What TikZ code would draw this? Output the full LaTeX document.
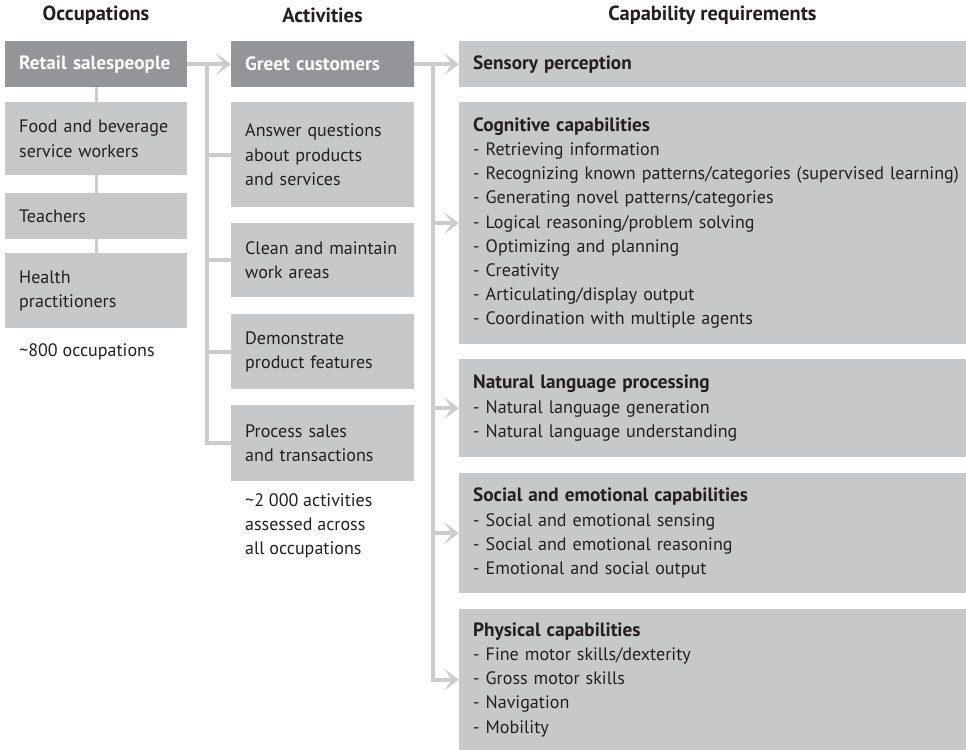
\documentclass[tikz,border=0pt]{standalone}
\usepackage{fontspec}
\setmainfont{PT Sans}
\usetikzlibrary{arrows.meta,positioning}

\definecolor{boxgray}{HTML}{C7C8CA}
\definecolor{headgray}{HTML}{939598}
\definecolor{linkgray}{HTML}{CBCCCE}
\definecolor{inkgray}{HTML}{231F20}

\newcommand{\bodyfont}{\fontsize{18.1}{24.3}\selectfont}
\newcommand{\headfont}{\fontsize{19.3}{24.3}\selectfont\bfseries}
\newcommand{\boxhead}[1]{{\headfont #1}}

\tikzset{>={Stealth[length=15bp,width=22bp,inset=8bp]},
  box/.style={rectangle, fill=boxgray, anchor=north west, inner xsep=14bp,
    inner ysep=0pt, align=left, text=inkgray, font=\bodyfont,
    execute at begin node={\hyphenpenalty=10000\relax}},
  occbox/.style={box, text width=154bp, minimum width=182bp},
  actbox/.style={box, text width=155bp, minimum width=183bp},
  capbox/.style={box, text width=492bp, minimum width=520bp},
  head/.style={fill=headgray, text=white, font=\headfont},
  note/.style={anchor=north west, inner xsep=14bp, inner ysep=0pt,
    align=left, text=inkgray, font=\bodyfont},
  title/.style={text=inkgray, font=\fontsize{20.5}{24}\selectfont\bfseries},
  link/.style={draw=linkgray, line width=4bp},
  stem/.style={draw=linkgray, line width=3.3bp}}

\begin{document}
\begin{tikzpicture}[x=1bp,y=-1bp]

  \useasboundingbox (0,0) rectangle (966,750);

  % column titles
  \node[title] (occtitle) at (96,15) {Occupations};
  \node[title] (acttitle) at (322.5,15) {Activities};
  \node[title] (captitle) at (712.5,15) {Capability requirements};

  % occupations
  \node[occbox,head,minimum height=46bp] (retail) at (5,41) {Retail salespeople};
  \node[occbox,minimum height=73bp] (food) at (5,102) {Food and beverage\\service workers};
  \node[occbox,minimum height=46bp] (teachers) at (5,193) {Teachers};
  \node[occbox,minimum height=75bp] (health) at (5,253) {Health\\practitioners};
  \node[note] (occcount) at (5,343) {\textasciitilde800 occupations};

  % activities
  \node[actbox,head,minimum height=46bp] (greet) at (231,41) {Greet customers};
  \node[actbox,minimum height=105bp] (answer) at (231,102) {Answer questions\\about products\\and services};
  \node[actbox,minimum height=74bp] (clean) at (231,223) {Clean and maintain\\work areas};
  \node[actbox,minimum height=75bp] (demo) at (231,314) {Demonstrate\\product features};
  \node[actbox,minimum height=76bp] (process) at (231,405) {Process sales\\and transactions};
  \node[note] (actcount) at (231,493) {\textasciitilde2 000 activities\\assessed across\\all occupations};

  % capabilities (boxes run off the right edge)
  \node[capbox,minimum height=46bp] (sensory) at (459,41) {\boxhead{Sensory perception}};
  \node[capbox,minimum height=242bp] (cognitive) at (459,102) {\boxhead{Cognitive capabilities}\\
    - Retrieving information\\
    - Recognizing known patterns/categories (supervised learning)\\
    - Generating novel patterns/categories\\
    - Logical reasoning/problem solving\\
    - Optimizing and planning\\
    - Creativity\\
    - Articulating/display output\\
    - Coordination with multiple agents};
  \node[capbox,minimum height=98bp] (nlp) at (459,359) {\boxhead{Natural language processing}\\
    - Natural language generation\\
    - Natural language understanding};
  \node[capbox,minimum height=120bp] (social) at (459,473) {\boxhead{Social and emotional capabilities}\\
    - Social and emotional sensing\\
    - Social and emotional reasoning\\
    - Emotional and social output};
  \node[capbox,minimum height=141bp] (physical) at (459,609) {\boxhead{Physical capabilities}\\
    - Fine motor skills/dexterity\\
    - Gross motor skills\\
    - Navigation\\
    - Mobility};

  % occupation list
  \draw[stem] (retail) -- (food);
  \draw[stem] (food) -- (teachers);
  \draw[stem] (teachers) -- (health);

  % occupation to activities
  \coordinate (fork) at (207,64);
  \draw[link,->] (retail.east) -- (greet.west);
  \draw[link] (fork) |- (process.west);
  \foreach \n in {answer,clean,demo}
    \draw[link] (fork |- \n.west) -- (\n.west);

  % activity to capabilities
  \coordinate (spine) at (433,64);
  \draw[link,->] (greet.east) -- (sensory.west);
  \draw[link,->] (spine) |- (physical.west);
  \foreach \n in {cognitive,nlp,social}
    \draw[link,->] (spine |- \n.west) -- (\n.west);

\end{tikzpicture}
\end{document}
